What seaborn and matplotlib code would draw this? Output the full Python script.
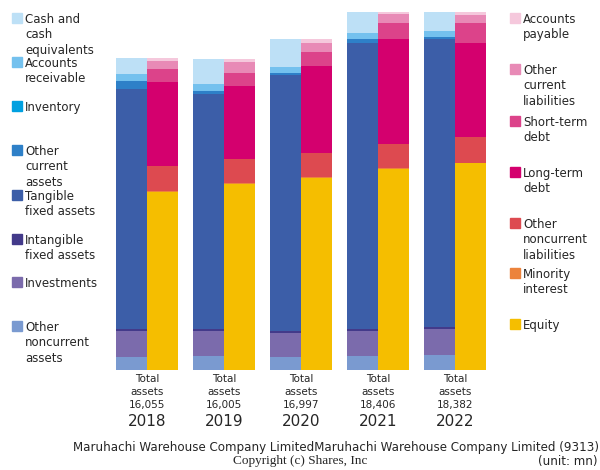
import pandas as pd
import seaborn as sns
import matplotlib.pyplot as plt
from matplotlib.patches import Rectangle

years = ["2018", "2019", "2020", "2021", "2022"]
total_assets = [16055, 16005, 16997, 18406, 18382]

# assets, bottom to top
other_noncurrent_assets = [668, 720, 668, 720, 771]
investments = [1362, 1301, 1249, 1301, 1337]
intangible_fixed = [67, 67, 87, 87, 90]
tangible_fixed = [12328, 12118, 13158, 14720, 14822]
other_current_assets = [427, 154, 103, 190, 118]
inventory = [0, 0, 0, 0, 0]
accounts_receivable = [344, 324, 308, 324, 293]
cash = [859, 1321, 1424, 1064, 951]

# liabilities + equity, bottom to top
equity = [9158, 9568, 9876, 10344, 10634]
minority_interest = [30, 26, 26, 26, 26]
other_noncurrent_liab = [1300, 1234, 1234, 1234, 1321]
long_term_debt = [4318, 3768, 4473, 5429, 4833]
short_term_debt = [668, 689, 720, 823, 1028]
other_current_liab = [427, 530, 478, 447, 411]
accounts_payable = [154, 190, 190, 103, 129]

asset_stack = [other_noncurrent_assets, investments, intangible_fixed, tangible_fixed,
               other_current_assets, inventory, accounts_receivable, cash]
asset_colors = ["#7a9ad0", "#7b6bac", "#433a8a", "#3c5ea8",
                "#2e80c8", "#00a0e0", "#74c1ee", "#bde0f6"]
liab_stack = [equity, minority_interest, other_noncurrent_liab, long_term_debt,
              short_term_debt, other_current_liab, accounts_payable]
liab_colors = ["#f5be00", "#ec833c", "#dd4a50", "#d4006e",
               "#dc438a", "#e88ab6", "#f5c8dc"]

asset_labels = ["Cash and\ncash\nequivalents", "Accounts\nreceivable", "Inventory",
                "Other\ncurrent\nassets", "Tangible\nfixed assets", "Intangible\nfixed assets",
                "Investments", "Other\nnoncurrent\nassets"]
liab_labels = ["Accounts\npayable", "Other\ncurrent\nliabilities", "Short-term\ndebt",
               "Long-term\ndebt", "Other\nnoncurrent\nliabilities", "Minority\ninterest", "Equity"]

sns.set_style("white")
plt.rcParams['font.family'] = ['DejaVu Sans']

fig = plt.figure(figsize=(6, 4.7), dpi=100)
ax = fig.add_axes([116 / 600, 1 - 370 / 470, 370 / 600, 358 / 470])

# cumulative heights, drawn from the top layer down so lower layers cover
def cumulate(stack):
    out, run = [], [0] * len(years)
    for seg in stack:
        run = [a + b for a, b in zip(run, seg)]
        out.append(run)
    return out

a_cum = cumulate(asset_stack)
l_cum = cumulate(liab_stack)

n_layers = max(len(a_cum), len(l_cum))
for k in range(n_layers - 1, -1, -1):
    ka = min(k, len(a_cum) - 1)
    kl = min(k, len(l_cum) - 1)
    df = pd.DataFrame({
        "year": years * 2,
        "value": a_cum[ka] + l_cum[kl],
        "side": ["Assets"] * len(years) + ["Liabilities"] * len(years),
    })
    sns.barplot(data=df, x="year", y="value", hue="side",
                hue_order=["Assets", "Liabilities"],
                palette={"Assets": asset_colors[ka], "Liabilities": liab_colors[kl]},
                width=0.8, gap=0, dodge=True, saturation=1, legend=False,
                linewidth=0, ax=ax)

ax.set_xlim(-0.4, 4.4)
ax.set_ylim(0, max(total_assets))
ax.set_yticks([])
ax.set_xlabel("")
ax.set_ylabel("")
sns.despine(ax=ax, left=True, bottom=True)
ax.set_xticks(range(len(years)))
ax.set_xticklabels(["Total\nassets\n{:,}".format(t) for t in total_assets],
                   fontsize=7.5, linespacing=1.38)
ax.tick_params(axis="x", length=0, pad=3)
for i, y in enumerate(years):
    ax.text(i, -51 / 358, y, transform=ax.get_xaxis_transform(),
            ha="center", va="center", fontsize=11)

# legends
def legend_column(labels, colors, x_box, x_text, tops):
    for lab, col, top in zip(labels, colors, tops):
        fig.patches.append(Rectangle((x_box / 600, 1 - (top + 10) / 470), 10 / 600, 10 / 470,
                                     transform=fig.transFigure, color=col))
        fig.text(x_text / 600, 1 - top / 470, lab, fontsize=8.5, va="top",
                 ha="left", linespacing=1.23)

legend_column(asset_labels, asset_colors[::-1], 12, 25,
              [13, 57, 101, 145, 190, 234, 277, 321])
legend_column(liab_labels, liab_colors[::-1], 510, 523,
              [13, 64, 116, 167, 218, 268, 319])

fig.text(599 / 600, 1 - 448 / 470,
         "Maruhachi Warehouse Company LimitedMaruhachi Warehouse Company Limited (9313)",
         ha="right", va="center", fontsize=8.6)
fig.text(300 / 600, 1 - 461 / 470, "Copyright (c) Shares, Inc", ha="center", va="center",
         fontsize=9.5, family="Liberation Serif")
fig.text(598 / 600, 1 - 461 / 470, "(unit: mn)", ha="right", va="center", fontsize=8.6)

fig.savefig("out.png", dpi=100)
